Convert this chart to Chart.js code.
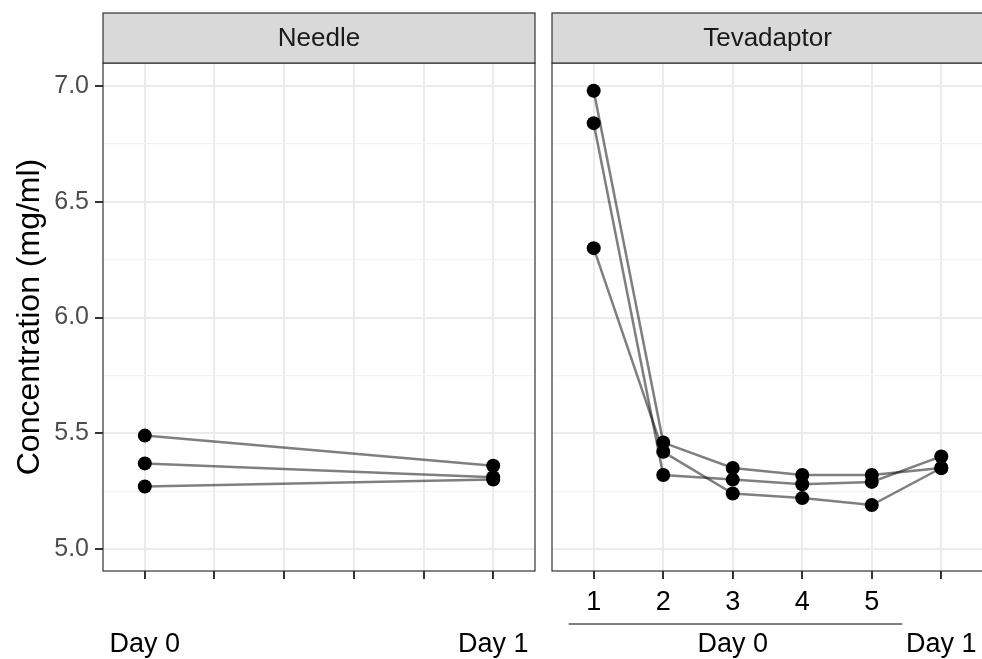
<!DOCTYPE html>
<html lang="en">
<head>
    <meta charset="UTF-8">
    <title>Concentration by device</title>
    <script src="https://cdn.jsdelivr.net/npm/chart.js"></script>
    <style>
        html, body {
            margin: 0;
            padding: 0;
            width: 982px;
            height: 659px;
            overflow: hidden;
            background: #fff;
        }
        canvas {
            position: absolute;
            top: 0;
        }
        #needleChart { left: 0; }
        #tevaChart { left: 545px; }
    </style>
</head>
<body>
    <canvas id="needleChart" width="545" height="659"></canvas>
    <canvas id="tevaChart" width="445" height="659"></canvas>

    <script>
        // Needle panel: Day 0 sits at position 1, Day 1 at position 6
        const needleX = [1, 6];
        const needleRep1 = [5.49, 5.36];
        const needleRep2 = [5.37, 5.31];
        const needleRep3 = [5.27, 5.30];
        const needleTickLabels = { 1: ['', 'Day 0'], 6: ['', 'Day 1'] };

        // Tevadaptor panel: five Day 0 samples, then Day 1
        const tevaX = [1, 2, 3, 4, 5, 6];
        const tevaRep1 = [6.98, 5.46, 5.35, 5.32, 5.32, 5.35];
        const tevaRep2 = [6.84, 5.32, 5.30, 5.28, 5.29, 5.40];
        const tevaRep3 = [6.30, 5.42, 5.24, 5.22, 5.19, 5.35];
        const tevaTickLabels = { 1: ['1', ''], 2: ['2', ''], 3: ['3', 'Day 0'], 4: ['4', ''], 5: ['5', ''], 6: ['', 'Day 1'] };

        const xTicks = [1, 2, 3, 4, 5, 6];
        const yTicks = [5.0, 5.25, 5.5, 5.75, 6.0, 6.25, 6.5, 6.75, 7.0];

        Chart.defaults.font.family = "'Liberation Sans', Arial, sans-serif";
        Chart.defaults.animation = false;

        const isMajorY = v => Math.abs(v * 2 - Math.round(v * 2)) < 1e-6;

        // strip on top, panel border and the Day 0 bracket
        const facetPlugin = {
            id: 'facet',
            afterDraw(chart, args, opts) {
                const ctx = chart.ctx;
                const a = chart.chartArea;
                ctx.save();
                ctx.strokeStyle = '#333333';
                ctx.lineWidth = 1.2;
                ctx.strokeRect(a.left, a.top, a.right - a.left, a.bottom - a.top);

                ctx.fillStyle = '#d9d9d9';
                ctx.fillRect(a.left, opts.stripTop, a.right - a.left, a.top - opts.stripTop);
                ctx.strokeRect(a.left, opts.stripTop, a.right - a.left, a.top - opts.stripTop);

                ctx.fillStyle = '#1a1a1a';
                ctx.font = "26px 'Liberation Sans', Arial, sans-serif";
                ctx.textAlign = 'center';
                ctx.textBaseline = 'middle';
                ctx.fillText(opts.label, (a.left + a.right) / 2, (opts.stripTop + a.top) / 2 + 1);

                if (opts.bracket) {
                    const xs = chart.scales.x;
                    ctx.strokeStyle = '#000';
                    ctx.lineWidth = 1;
                    ctx.beginPath();
                    ctx.moveTo(xs.getPixelForValue(opts.bracket[0]), opts.bracketY);
                    ctx.lineTo(xs.getPixelForValue(opts.bracket[1]), opts.bracketY);
                    ctx.stroke();
                }
                ctx.restore();
            }
        };

        function toPoints(xs, ys) {
            return xs.map((x, i) => ({ x: x, y: ys[i] }));
        }

        function makeDatasets(xs, reps) {
            const lines = reps.map(r => ({
                data: toPoints(xs, r),
                showLine: true,
                borderColor: 'rgba(0,0,0,0.5)',
                borderWidth: 2.5,
                pointRadius: 0,
                pointHoverRadius: 0
            }));
            const dots = reps.map(r => ({
                data: toPoints(xs, r),
                showLine: false,
                backgroundColor: '#000',
                borderWidth: 0,
                pointRadius: 7,
                pointHoverRadius: 7
            }));
            return lines.concat(dots);
        }

        function makeOptions(cfg) {
            return {
                responsive: false,
                devicePixelRatio: 1,
                events: [],
                layout: { padding: cfg.padding },
                plugins: {
                    legend: { display: false },
                    tooltip: { enabled: false },
                    facet: cfg.facet
                },
                scales: {
                    x: {
                        type: 'linear',
                        min: 0.4,
                        max: 6.6,
                        afterBuildTicks: s => { s.ticks = xTicks.map(v => ({ value: v })); },
                        afterFit: s => { s.height = 88; },
                        border: { display: false },
                        grid: {
                            color: '#ebebeb',
                            lineWidth: 2,
                            tickColor: '#333333',
                            tickWidth: 2,
                            tickLength: 8
                        },
                        ticks: {
                            autoSkip: false,
                            maxRotation: 0,
                            padding: 3,
                            color: '#000',
                            font: { size: 27, lineHeight: '42px' },
                            callback: v => cfg.tickLabels[v] || ''
                        }
                    },
                    y: {
                        min: 4.905,
                        max: 7.1,
                        afterBuildTicks: s => { s.ticks = yTicks.map(v => ({ value: v })); },
                        afterFit: s => { s.width = cfg.yWidth; },
                        border: { display: false },
                        title: {
                            display: cfg.showY,
                            text: 'Concentration (mg/ml)',
                            color: '#000',
                            font: { size: 32 },
                            padding: { top: 11, bottom: 0 }
                        },
                        grid: {
                            color: c => isMajorY(c.tick.value) ? '#ebebeb' : '#f2f2f2',
                            lineWidth: c => isMajorY(c.tick.value) ? 2 : 1.2,
                            tickColor: c => isMajorY(c.tick.value) ? '#333333' : 'rgba(0,0,0,0)',
                            tickWidth: 2,
                            tickLength: 8,
                            drawTicks: cfg.showY
                        },
                        ticks: {
                            display: cfg.showY,
                            padding: 6,
                            color: '#4d4d4d',
                            font: { size: 25 },
                            callback: v => isMajorY(v) ? v.toFixed(1) : ''
                        }
                    }
                }
            };
        }

        new Chart(document.getElementById('needleChart'), {
            type: 'scatter',
            data: { datasets: makeDatasets(needleX, [needleRep1, needleRep2, needleRep3]) },
            options: makeOptions({
                padding: { top: 63, right: 10, bottom: 0, left: 0 },
                yWidth: 103,
                showY: true,
                tickLabels: needleTickLabels,
                facet: { label: 'Needle', stripTop: 13 }
            }),
            plugins: [facetPlugin]
        });

        new Chart(document.getElementById('tevaChart'), {
            type: 'scatter',
            data: { datasets: makeDatasets(tevaX, [tevaRep1, tevaRep2, tevaRep3]) },
            options: makeOptions({
                padding: { top: 63, right: 5, bottom: 0, left: 6 },
                yWidth: 0,
                showY: false,
                tickLabels: tevaTickLabels,
                facet: { label: 'Tevadaptor', stripTop: 13, bracket: [0.64, 5.44], bracketY: 624 }
            }),
            plugins: [facetPlugin]
        });
    </script>
</body>
</html>
